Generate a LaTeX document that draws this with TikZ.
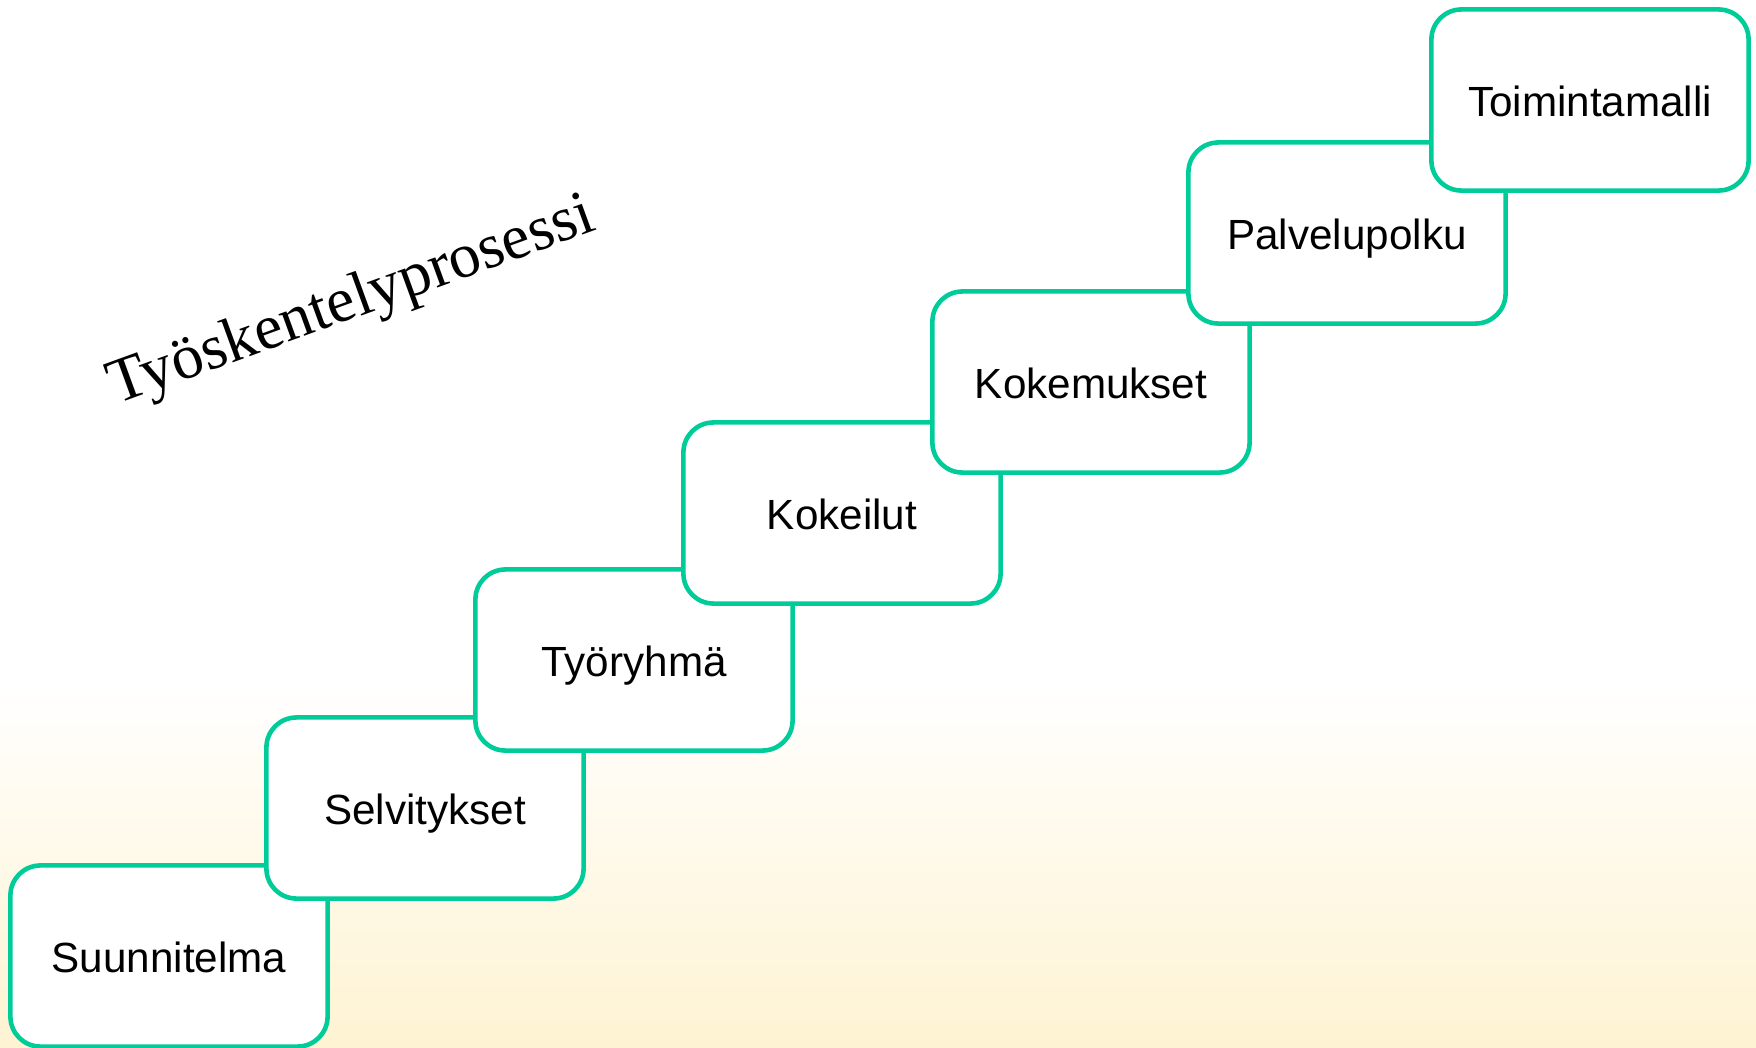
\documentclass[tikz,border=0pt]{standalone}
\usepackage{fontspec}
\setmainfont{Liberation Sans}
\newfontfamily\titlefont{Liberation Serif}
\definecolor{stepgreen}{RGB}{0,204,153}
\definecolor{cream}{RGB}{254,243,210}
\begin{document}
\begin{tikzpicture}[x=0.01cm,y=-0.01cm]
	          \useasboundingbox (0,0) rectangle (1756,1048);
	          \shade[top color=white,bottom color=cream] (0,680) rectangle (1756,1048);
	          \node[rotate=20,font=\titlefont\fontsize{18}{22}\selectfont] (title) at (352,303) {Työskentelyprosessi};
	          \begin{scope}[every node/.style={draw=stepgreen,line width=1.3pt,fill=white,rounded corners=0.3cm,minimum width=3.17cm,minimum height=1.81cm,inner sep=0pt,text height=9.6pt,text depth=0pt,font=\fontsize{12}{14}\selectfont}]
	            \node (a) at (169,956) {Suunnitelma};
	            \node (b) at (425,808) {Selvitykset};
	            \node (c) at (634,660) {Työryhmä};
	            \node (d) at (842,513) {Kokeilut};
	            \node (e) at (1091,382) {Kokemukset};
	            \node (f) at (1347,233) {Palvelupolku};
	            \node (g) at (1590,100) {Toimintamalli};
	          \end{scope}
	        \end{tikzpicture}
\end{document}
